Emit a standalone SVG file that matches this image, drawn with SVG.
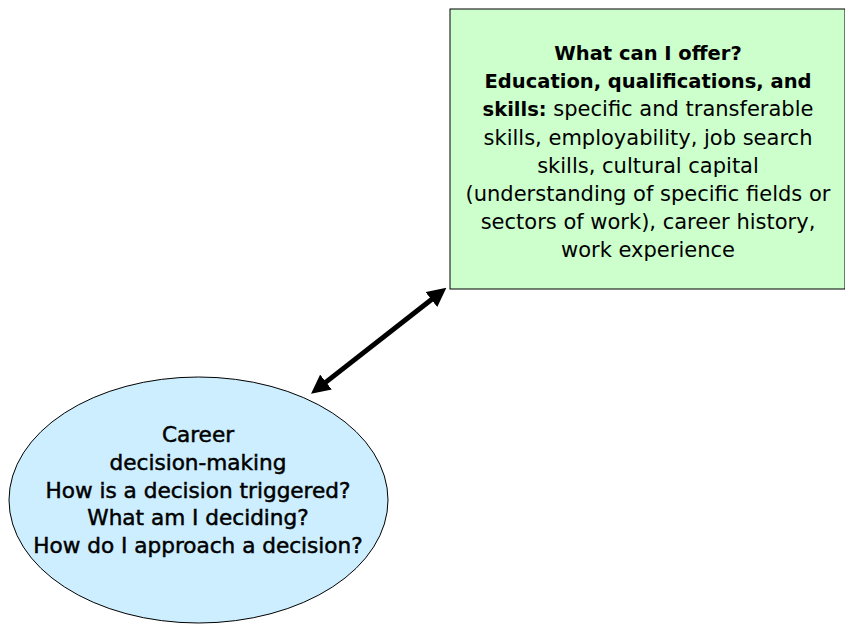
<svg xmlns="http://www.w3.org/2000/svg" width="845" height="626" viewBox="0 0 845 626">
<style>
.t{font-family:"DejaVu Sans","Liberation Sans",sans-serif;font-size:21px;fill:#000;text-anchor:middle}
.b{font-weight:bold;font-size:19.5px}
.m{font-size:21.6px;stroke:#000;stroke-width:0.5}
</style>
<defs>
<marker id="ah" viewBox="0 0 10 10" refX="2" refY="5" markerWidth="3.8" markerHeight="3.8" orient="auto-start-reverse" markerUnits="strokeWidth">
<path d="M0,0 L10,5 L0,10 z" fill="#000"/>
</marker>
</defs>
<rect width="845" height="626" fill="#fff"/>
<g id="offer">
<rect x="450" y="9" width="395" height="280" fill="#ccffcc" stroke="#000" stroke-width="1"/>
<text class="t"><tspan class="b" x="648" y="60">What can I offer?</tspan><tspan class="b" x="648" y="88">Education, qualifications, and</tspan><tspan x="648" y="116"><tspan class="b">skills:</tspan> specific and transferable</tspan><tspan x="648" y="144.5">skills, employability, job search</tspan><tspan x="648" y="172.5">skills, cultural capital</tspan><tspan x="648" y="200.5">(understanding of specific fields or</tspan><tspan x="648" y="228.7">sectors of work), career history,</tspan><tspan x="648" y="256.7">work experience</tspan></text>
</g>
<g id="decision">
<ellipse cx="198.5" cy="500" rx="189.5" ry="123" fill="#cceeff" stroke="#000" stroke-width="1"/>
<text class="t m"><tspan x="198" y="442">Career</tspan><tspan x="198" y="470">decision-making</tspan><tspan x="198" y="497.5">How is a decision triggered?</tspan><tspan x="198" y="525">What am I deciding?</tspan><tspan x="198" y="553">How do I approach a decision?</tspan></text>
</g>
<g id="connectors">
<line x1="323" y1="384.4" x2="434.4" y2="297.2" stroke="#000" stroke-width="5" marker-start="url(#ah)" marker-end="url(#ah)"/>
</g>
</svg>
